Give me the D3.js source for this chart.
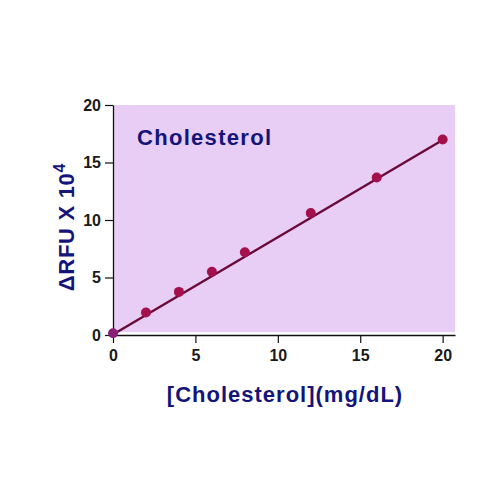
<!DOCTYPE html>
<html>
<head>
<meta charset="utf-8">
<script src="https://cdn.jsdelivr.net/npm/d3@7"></script>
<style>
  body { margin: 0; background: #fff; }
  svg { font-family: "Liberation Sans", Arial, sans-serif; }
</style>
</head>
<body>
<div id="chart"></div>
<script>
// standard curve readings
const concentration = [0, 2, 4, 6, 8, 12, 16, 20];
const deltaRFU = [0.15, 1.95, 3.75, 5.5, 7.2, 10.6, 13.7, 17.0];
// fitted line endpoints
const fitX = [0, 20];
const fitY = [0.05, 16.95];
const xTicks = [0, 5, 10, 15, 20];
const yTicks = [0, 5, 10, 15, 20];

const w = 500, h = 500;
const plotLeft = 113, plotRight = 455, plotTop = 105, plotBottom = 335;

const svg = d3.select("#chart").append("svg")
    .attr("width", w)
    .attr("height", h);

const x = d3.scaleLinear().domain([0, 20.75]).range([plotLeft, plotRight]);
const y = d3.scaleLinear().domain([0, 20]).range([plotBottom, plotTop]);

// plot background
svg.append("rect")
    .attr("x", x(0))
    .attr("y", y(20))
    .attr("width", x(20.75) - x(0))
    .attr("height", y(0.25) - y(20))
    .attr("fill", "#e8cdf5");

const xAxis = svg.append("g")
    .attr("transform", "translate(0," + plotBottom + ")")
    .call(d3.axisBottom(x).tickValues(xTicks).tickSize(8).tickPadding(7).tickSizeOuter(0));

const yAxis = svg.append("g")
    .attr("transform", "translate(" + plotLeft + ",0)")
    .call(d3.axisLeft(y).tickValues(yTicks).tickSize(8).tickPadding(4).tickSizeOuter(0));

[xAxis, yAxis].forEach(function(a){
    a.select(".domain").attr("stroke", "#111").attr("stroke-width", 1.3);
    a.selectAll(".tick line").attr("stroke", "#111").attr("stroke-width", 1.2);
    a.selectAll(".tick text")
        .attr("fill", "#1a1a1a")
        .attr("font-size", "16px")
        .attr("font-weight", "bold")
        .attr("font-family", "Liberation Sans, Arial, sans-serif");
});

// fitted line
const line = d3.line()
    .x(function(d){ return x(d[0]); })
    .y(function(d){ return y(d[1]); });

svg.append("path")
    .datum(d3.zip(fitX, fitY))
    .attr("d", line)
    .attr("fill", "none")
    .attr("stroke", "#6a0a38")
    .attr("stroke-width", 2.4);

svg.selectAll(".pt")
    .data(d3.zip(concentration, deltaRFU))
    .enter().append("circle")
    .attr("class", "pt")
    .attr("cx", function(d){ return x(d[0]); })
    .attr("cy", function(d){ return y(d[1]); })
    .attr("r", 5)
    .attr("fill", function(d, i){ return i === 0 ? "#8a1f7a" : "#a3104c"; });

// titles
svg.append("text")
    .attr("x", 137)
    .attr("y", 145)
    .attr("fill", "#14147a")
    .attr("font-size", "22px")
    .attr("font-weight", "bold")
    .attr("letter-spacing", "1.3px")
    .text("Cholesterol");

svg.append("text")
    .attr("x", 285)
    .attr("y", 402)
    .attr("text-anchor", "middle")
    .attr("fill", "#14147a")
    .attr("font-size", "22px")
    .attr("font-weight", "bold")
    .attr("letter-spacing", "1px")
    .text("[Cholesterol](mg/dL)");

const yTitle = svg.append("text")
    .attr("transform", "translate(74,227) rotate(-90)")
    .attr("text-anchor", "middle")
    .attr("fill", "#14147a")
    .attr("font-size", "22px")
    .attr("font-weight", "bold")
    .attr("letter-spacing", "0.7px");
yTitle.append("tspan").text("\u0394RFU X 10");
yTitle.append("tspan").attr("dy", "-9").attr("font-size", "16px").text("4");
</script>
</body>
</html>
